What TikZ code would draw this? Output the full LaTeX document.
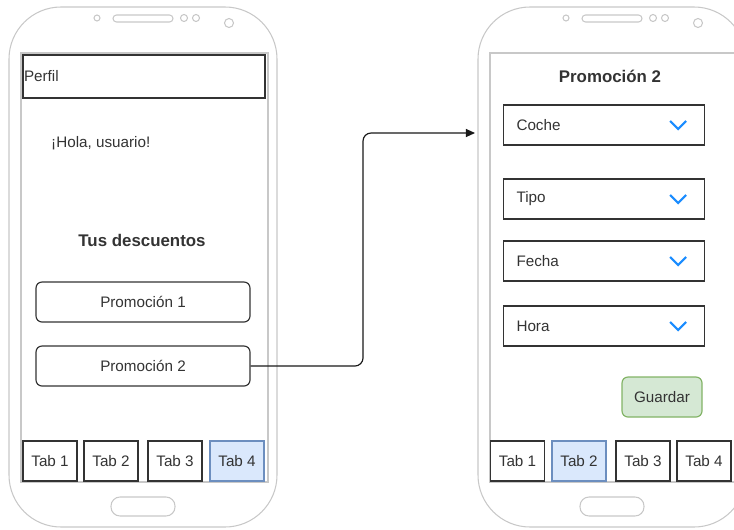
\documentclass[tikz,border=0pt]{standalone}
\usepackage{fontspec}
\setmainfont{Liberation Sans}
\usetikzlibrary{arrows.meta}

% one screen pixel
\newlength\px
\setlength\px{0.03cm}

\definecolor{txtgray}{HTML}{333333}
\definecolor{phonegray}{HTML}{C8C8C8}
\definecolor{tabblue}{HTML}{DAE8FC}
\definecolor{tabedge}{HTML}{6C8EBF}
\definecolor{okgreen}{HTML}{D5E8D4}
\definecolor{okedge}{HTML}{82B366}
\definecolor{chevblue}{HTML}{1A8CFF}

\tikzset{
	phone/.style={draw=phonegray, line width=0.9pt},
	plain/.style={text=txtgray, inner sep=0pt, font=\fontsize{13}{15}\selectfont},
	heading/.style={plain, font=\fontsize{14.4}{16}\selectfont\bfseries},
	uibox/.style={plain, draw=black!80, line width=1pt},
	promobtn/.style={uibox, rounded corners=6\px, minimum width=214\px, minimum height=40\px},
	tabbox/.style={uibox, minimum width=54\px, minimum height=40\px},
	activetab/.style={tabbox, fill=tabblue, draw=tabedge},
	dropbox/.style={uibox, text width=175\px, inner xsep=13\px, minimum height=40\px, align=left},
	savebtn/.style={uibox, fill=okgreen, draw=okedge, rounded corners=6\px, minimum width=80\px, minimum height=40\px},
	chev/.style={draw=chevblue, line width=1.9pt},
	flow/.style={draw=black!90, line width=1pt, rounded corners=8\px, -{Triangle[length=7.7pt,width=6.8pt]}}
}

\begin{document}
\begin{tikzpicture}[x=1\px, y=-1\px]

		\useasboundingbox (0,0) rectangle (734,529);
		\clip (0,0) rectangle (734,529);

		% phone frames
		\foreach \dx in {0,469} {
			\begin{scope}[xshift=\dx\px]
				\draw[phone, rounded corners=52\px] (9,7) rectangle (277,527);
				\draw[phone] (21,53) rectangle (268,482);
				% speaker, sensors and camera
				\draw[phone] (97,18) circle[radius=3\px]
							 (184,18) circle[radius=3.5\px]
							 (196,18) circle[radius=3.5\px]
							 (229,23) circle[radius=4.5\px];
				\draw[phone, rounded corners=3.5\px] (113,15) rectangle (173,22);
				% home button
				\draw[phone, rounded corners=9\px] (111,497) rectangle (175,516);
			\end{scope}
		}

		% profile screen
		\node[uibox, text width=240\px, inner xsep=1\px, minimum height=43\px, align=left] (perfil) at (144,76.5) {Perfil};
		\node[plain, anchor=west] (saludo) at (51,143) {¡Hola, usuario!};
		\node[heading] (descuentos) at (142,240) {Tus descuentos};
		\node[promobtn] (promo1) at (143,302) {Promoción 1};
		\node[promobtn] (promo2) at (143,366) {Promoción 2};

		\node[tabbox] (ltab1) at (50,461) {Tab 1};
		\node[tabbox] (ltab2) at (111,461) {Tab 2};
		\node[tabbox] (ltab3) at (175,461) {Tab 3};
		\node[activetab] (ltab4) at (237,461) {Tab 4};

		% promotion screen
		\node[heading] (titulo) at (610,76) {Promoción 2};
		\foreach \nm/\lbl/\y in {coche/Coche/125, tipo/Tipo/199, fecha/Fecha/261, hora/Hora/326} {
			\node[dropbox] (\nm) at (604,\y) {\lbl};
			\draw[chev] (\nm.east) ++(-35,-4) -- ++(8,8) -- ++(8,-8);
		}
		\node[savebtn] (guardar) at (662,397) {Guardar};

		\node[tabbox] (rtab1) at (517.5,461) {Tab 1};
		\node[activetab] (rtab2) at (579,461) {Tab 2};
		\node[tabbox] (rtab3) at (643,461) {Tab 3};
		\node[tabbox] (rtab4) at (704,461) {Tab 4};

		% navigation
		\coordinate (turn) at (363,133);
		\coordinate (entry) at (475,133);
		\draw[flow] (promo2.east) -| (turn) -- (entry);

\end{tikzpicture}
\end{document}
